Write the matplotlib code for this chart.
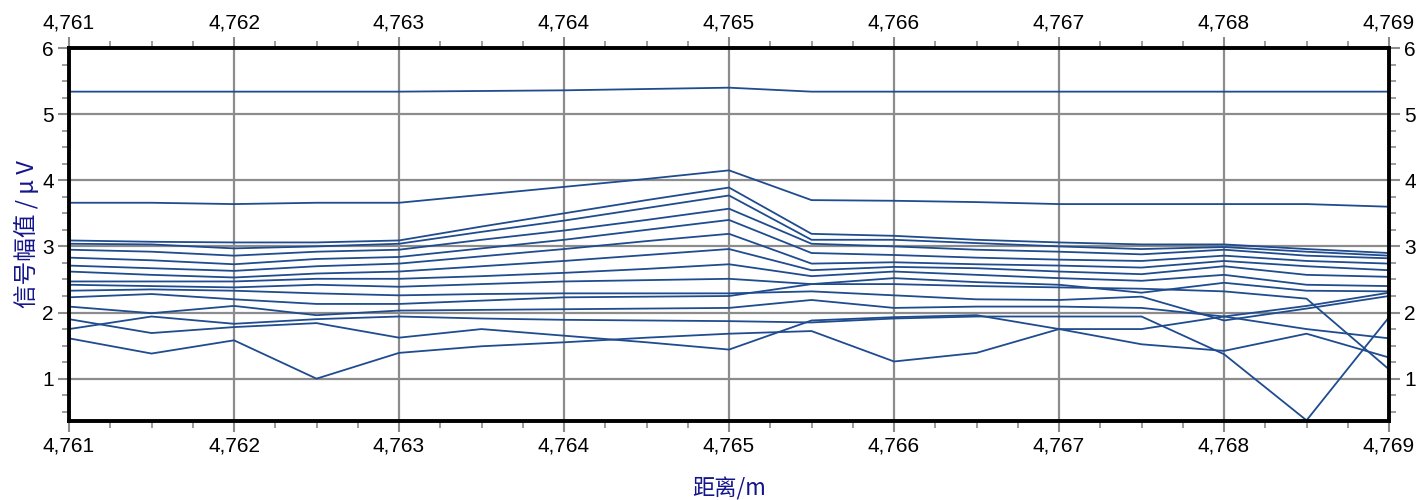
import matplotlib
matplotlib.use("Agg")
import matplotlib.pyplot as plt
from matplotlib.ticker import MultipleLocator, FuncFormatter
import numpy as np

# distance positions (m)
distance = [4761.0, 4761.5, 4762.0, 4762.5, 4763.0, 4763.5, 4764.0, 4764.5, 4765.0,
            4765.5, 4766.0, 4766.5, 4767.0, 4767.5, 4768.0, 4768.5, 4769.0]

# signal amplitude curves (uV), one list per channel
ch01 = [5.34, 5.34, 5.34, 5.34, 5.34, 5.35, 5.36, 5.38, 5.40, 5.34, 5.34, 5.34, 5.34, 5.34, 5.34, 5.34, 5.34]
ch02 = [3.66, 3.66, 3.64, 3.66, 3.66, 3.78, 3.90, 4.02, 4.15, 3.70, 3.69, 3.67, 3.64, 3.64, 3.64, 3.64, 3.60]
ch03 = [3.09, 3.07, 3.06, 3.06, 3.09, 3.30, 3.50, 3.70, 3.89, 3.19, 3.16, 3.10, 3.06, 3.03, 3.03, 2.96, 2.90]
ch04 = [3.04, 3.03, 2.97, 3.00, 3.04, 3.22, 3.39, 3.58, 3.77, 3.10, 3.10, 3.05, 3.00, 2.96, 2.99, 2.92, 2.86]
ch05 = [2.95, 2.92, 2.86, 2.92, 2.95, 3.10, 3.24, 3.40, 3.57, 3.04, 3.00, 2.95, 2.92, 2.88, 2.95, 2.86, 2.82]
ch06 = [2.83, 2.79, 2.73, 2.81, 2.84, 2.97, 3.10, 3.25, 3.40, 2.90, 2.87, 2.83, 2.80, 2.78, 2.86, 2.78, 2.74]
ch07 = [2.71, 2.67, 2.63, 2.70, 2.74, 2.85, 2.96, 3.08, 3.19, 2.74, 2.76, 2.73, 2.71, 2.68, 2.78, 2.70, 2.64]
ch08 = [2.62, 2.57, 2.53, 2.59, 2.62, 2.70, 2.78, 2.87, 2.96, 2.64, 2.69, 2.67, 2.62, 2.58, 2.70, 2.57, 2.54]
ch09 = [2.47, 2.47, 2.47, 2.51, 2.51, 2.55, 2.60, 2.66, 2.73, 2.55, 2.62, 2.57, 2.52, 2.48, 2.57, 2.42, 2.40]
ch10 = [2.42, 2.40, 2.38, 2.42, 2.39, 2.43, 2.47, 2.49, 2.51, 2.43, 2.43, 2.40, 2.38, 2.36, 2.32, 2.21, 1.14]
ch11 = [2.33, 2.35, 2.33, 2.29, 2.26, 2.28, 2.29, 2.29, 2.29, 2.32, 2.26, 2.20, 2.19, 2.24, 1.88, 2.06, 2.25]
ch12 = [2.23, 2.28, 2.20, 2.13, 2.13, 2.18, 2.23, 2.24, 2.25, 2.43, 2.52, 2.46, 2.42, 2.30, 2.45, 2.33, 2.32]
ch13 = [2.09, 1.99, 2.10, 1.96, 2.03, 2.04, 2.05, 2.06, 2.07, 2.19, 2.07, 2.09, 2.09, 2.07, 1.94, 1.75, 1.61]
ch14 = [1.90, 1.69, 1.78, 1.84, 1.62, 1.75, 1.65, 1.55, 1.44, 1.88, 1.93, 1.96, 1.75, 1.52, 1.42, 1.68, 1.32]
ch15 = [1.75, 1.94, 1.83, 1.90, 1.94, 1.91, 1.89, 1.88, 1.87, 1.85, 1.91, 1.94, 1.94, 1.94, 1.37, 0.37, 1.93]
ch16 = [1.61, 1.38, 1.58, 1.00, 1.39, 1.49, 1.55, 1.62, 1.68, 1.72, 1.26, 1.39, 1.75, 1.75, 1.94, 2.10, 2.30]

channels = [ch01, ch02, ch03, ch04, ch05, ch06, ch07, ch08,
            ch09, ch10, ch11, ch12, ch13, ch14, ch15, ch16]

plt.rcParams['font.family'] = ['Liberation Sans', 'DejaVu Sans']

line_color = "#1f4b8f"
grid_color = "#8c8c8c"
label_color = "#14148c"
cjk = ["Noto Sans CJK SC", "DejaVu Sans"]

fig = plt.figure(figsize=(14.2, 5.0), dpi=100)
ax = fig.add_axes([0.0486, 0.158, 0.9296, 0.746])

for ch in channels:
    ax.plot(distance, ch, color=line_color, lw=1.3, zorder=3)

ax.set_xlim(4761, 4769)
ax.set_ylim(0.36, 6.0)

ax.xaxis.set_major_locator(MultipleLocator(1))
ax.xaxis.set_minor_locator(MultipleLocator(0.25))
ax.yaxis.set_major_locator(MultipleLocator(1))
ax.yaxis.set_minor_locator(MultipleLocator(0.25))
ax.xaxis.set_major_formatter(FuncFormatter(lambda v, p: f"{v:,.0f}"))
ax.yaxis.set_major_formatter(FuncFormatter(lambda v, p: f"{v:.0f}"))

ax.tick_params(axis="both", which="both", direction="out", color=grid_color,
               top=True, bottom=True, left=True, right=True,
               labeltop=True, labelbottom=True, labelleft=True, labelright=True,
               labelsize=15)
ax.tick_params(axis="both", which="major", length=8, width=1.5, pad=3)
ax.tick_params(axis="both", which="minor", length=5, width=1.2)

ax.grid(True, which="major", color=grid_color, lw=1.6, zorder=1)
ax.set_axisbelow(True)

for side in ["left", "right", "top", "bottom"]:
    ax.spines[side].set_color("black")
    ax.spines[side].set_linewidth(2.8)
    ax.spines[side].set_zorder(4)

ax.set_ylabel("信号幅值 / μ V", fontsize=17, color=label_color, family=cjk, labelpad=2)
ax.set_xlabel("距离/m", fontsize=16, color=label_color, family=cjk, labelpad=16)

fig.savefig("out.png", dpi=100)
